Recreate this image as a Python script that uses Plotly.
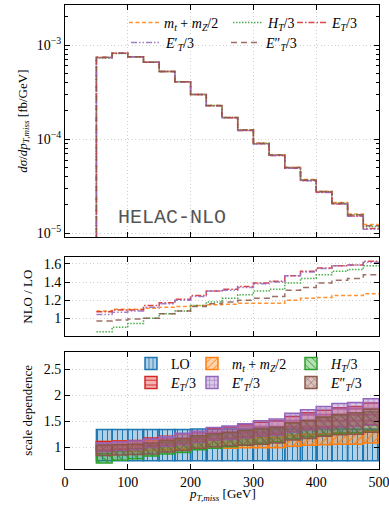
import plotly.graph_objects as go

# ---------------- data ----------------
edges = [50, 75, 100, 125, 150, 175, 200, 225, 250, 275, 300, 325, 350, 375, 400, 425, 450, 475, 500]

# NLO differential cross sections [fb/GeV] for the five scale choices
xs_mtmz = [7.40e-4, 8.17e-4, 7.51e-4, 6.55e-4, 5.25e-4, 4.07e-4, 2.99e-4, 2.28e-4, 1.70e-4,
           1.26e-4, 9.1e-5, 6.85e-5, 5.03e-5, 3.72e-5, 2.80e-5, 2.12e-5, 1.60e-5, 1.24e-5]
xs_ht = [7.30e-4, 8.12e-4, 7.49e-4, 6.55e-4, 5.25e-4, 4.07e-4, 2.99e-4, 2.28e-4, 1.70e-4,
         1.25e-4, 9.0e-5, 6.78e-5, 4.98e-5, 3.67e-5, 2.76e-5, 2.08e-5, 1.56e-5, 1.18e-5]
xs_et = [7.40e-4, 8.17e-4, 7.51e-4, 6.55e-4, 5.25e-4, 4.07e-4, 2.99e-4, 2.27e-4, 1.69e-4,
         1.24e-4, 8.95e-5, 6.72e-5, 4.92e-5, 3.63e-5, 2.72e-5, 2.05e-5, 1.53e-5, 1.12e-5]
xs_etp = [7.40e-4, 8.17e-4, 7.51e-4, 6.55e-4, 5.25e-4, 4.06e-4, 2.98e-4, 2.27e-4, 1.69e-4,
          1.24e-4, 8.9e-5, 6.70e-5, 4.90e-5, 3.62e-5, 2.71e-5, 2.04e-5, 1.52e-5, 1.10e-5]
xs_etpp = [7.42e-4, 8.17e-4, 7.51e-4, 6.55e-4, 5.25e-4, 4.07e-4, 2.99e-4, 2.28e-4, 1.70e-4,
           1.25e-4, 9.05e-5, 6.80e-5, 5.00e-5, 3.69e-5, 2.78e-5, 2.08e-5, 1.57e-5, 1.20e-5]

# NLO / LO ratios
r_mtmz = [1.08, 1.10, 1.10, 1.11, 1.12, 1.13, 1.14, 1.15, 1.155, 1.165, 1.165, 1.165, 1.20, 1.22, 1.23, 1.25, 1.25, 1.27]
r_ht = [0.85, 0.90, 0.94, 1.00, 1.05, 1.08, 1.14, 1.18, 1.22, 1.26, 1.30, 1.32, 1.39, 1.44, 1.48, 1.52, 1.54, 1.58]
r_et = [1.07, 1.09, 1.09, 1.14, 1.17, 1.21, 1.25, 1.30, 1.32, 1.35, 1.39, 1.41, 1.47, 1.52, 1.555, 1.58, 1.59, 1.63]
r_etp = [1.04, 1.065, 1.08, 1.12, 1.16, 1.20, 1.24, 1.30, 1.31, 1.34, 1.38, 1.40, 1.47, 1.51, 1.55, 1.58, 1.59, 1.62]
r_etpp = [0.97, 0.98, 0.99, 1.00, 1.05, 1.08, 1.13, 1.16, 1.18, 1.20, 1.22, 1.24, 1.31, 1.34, 1.39, 1.42, 1.44, 1.48]

# scale-dependence bands (low / high), normalised to LO
lo_low = [0.74] * 18
lo_high = [1.34, 1.34, 1.34, 1.34, 1.34, 1.34, 1.35, 1.35, 1.35, 1.35, 1.35, 1.35, 1.35, 1.35, 1.35, 1.35, 1.35, 1.35]
mtmz_low = [0.92, 0.93, 0.93, 0.94, 0.95, 0.96, 0.97, 0.98, 0.98, 0.99, 0.99, 0.99, 1.02, 1.04, 1.05, 1.06, 1.06, 1.08]
mtmz_high = [1.11, 1.12, 1.12, 1.13, 1.14, 1.15, 1.16, 1.17, 1.18, 1.19, 1.19, 1.19, 1.23, 1.25, 1.26, 1.28, 1.28, 1.30]
ht_low = [0.70, 0.75, 0.78, 0.83, 0.87, 0.90, 0.95, 0.98, 1.01, 1.05, 1.08, 1.10, 1.16, 1.20, 1.23, 1.27, 1.28, 1.32]
ht_high = [0.88, 0.93, 0.97, 1.03, 1.09, 1.12, 1.19, 1.23, 1.28, 1.32, 1.37, 1.39, 1.47, 1.52, 1.57, 1.61, 1.63, 1.68]
et_low = [0.94, 0.96, 0.96, 1.00, 1.03, 1.06, 1.10, 1.14, 1.16, 1.19, 1.22, 1.24, 1.29, 1.34, 1.37, 1.39, 1.40, 1.43]
et_high = [1.11, 1.12, 1.13, 1.18, 1.21, 1.26, 1.30, 1.36, 1.39, 1.43, 1.48, 1.51, 1.59, 1.66, 1.71, 1.76, 1.78, 1.85]
etp_low = [0.92, 0.94, 0.95, 0.99, 1.02, 1.05, 1.09, 1.14, 1.15, 1.18, 1.21, 1.23, 1.29, 1.33, 1.36, 1.39, 1.40, 1.42]
etp_high = [1.08, 1.10, 1.12, 1.16, 1.20, 1.27, 1.30, 1.38, 1.41, 1.45, 1.51, 1.54, 1.65, 1.72, 1.78, 1.84, 1.86, 1.93]
etpp_low = [0.84, 0.85, 0.86, 0.87, 0.91, 0.94, 0.98, 1.01, 1.03, 1.04, 1.06, 1.08, 1.14, 1.17, 1.21, 1.24, 1.25, 1.29]
etpp_high = [1.04, 1.05, 1.06, 1.08, 1.13, 1.17, 1.22, 1.26, 1.29, 1.32, 1.35, 1.38, 1.47, 1.51, 1.58, 1.63, 1.66, 1.73]

labels = {
    "mtmz": "<i>m</i><sub><i>t</i></sub> + <i>m</i><sub><i>Z</i></sub>/2",
    "ht": "<i>H</i><sub><i>T</i></sub>/3",
    "et": "<i>E</i><sub><i>T</i></sub>/3",
    "etp": "<i>E</i>′<sub><i>T</i></sub>/3",
    "etpp": "<i>E</i>″<sub><i>T</i></sub>/3",
    "lo": "LO",
}

# ---------------- styling ----------------
C = {"lo": "#1f77b4", "mtmz": "#ff7f0e", "ht": "#2ca02c", "et": "#d62728", "etp": "#9467bd", "etpp": "#8c564b"}
DASH = {"mtmz": "4px,2.5px", "ht": "1.5px,1.5px", "et": "6px,2px,1.5px,2px",
        "etp": "6px,2px,1.5px,2px,1.5px,2px", "etpp": "6px,4px"}


def rgba(h, a):
    h = h.lstrip("#")
    return "rgba(%d,%d,%d,%s)" % (int(h[0:2], 16), int(h[2:4], 16), int(h[4:6], 16), a)


W, H = 389, 505
L, R, T, B = 65, 10, 5, 36
PW, PH = W - L - R, H - T - B


def px_x(p):
    return (p - L) / PW


def px_y(p):
    return (H - B - p) / PH


fig = go.Figure()

xs = {"mtmz": xs_mtmz, "ht": xs_ht, "et": xs_et, "etp": xs_etp, "etpp": xs_etpp}
rs = {"mtmz": r_mtmz, "ht": r_ht, "et": r_et, "etp": r_etp, "etpp": r_etpp}

# legend placement for top panel (text start px, row center px)
top_leg = {"mtmz": (164, 23), "ht": (268, 23), "et": (332, 23), "etp": (166, 43), "etpp": (266, 43)}

legends = {}
li = 1
for k in ["mtmz", "ht", "et", "etp", "etpp"]:
    name = "legend" if li == 1 else "legend%d" % li
    tx, ty = top_leg[k]
    legends[name] = dict(x=px_x(tx - 40), y=px_y(ty), xanchor="left", yanchor="middle",
                         bgcolor="rgba(0,0,0,0)", borderwidth=0, itemwidth=30,
                         font=dict(size=14, family="Liberation Serif", color="black"))
    line = dict(color=rgba(C[k], 0.85), width=1.5, dash=DASH[k])
    fig.add_trace(go.Scatter(x=[edges[0]] + edges, y=[1e-7] + xs[k] + [xs[k][-1]],
                             mode="lines", line=dict(line, shape="hv"), name=labels[k],
                             legend=name, xaxis="x", yaxis="y"))
    fig.add_trace(go.Scatter(x=edges, y=rs[k] + [rs[k][-1]], mode="lines",
                             line=dict(line, shape="hv"), showlegend=False,
                             xaxis="x2", yaxis="y2"))
    li += 1

# scale dependence bands
centers = [(edges[i] + edges[i + 1]) / 2 for i in range(len(edges) - 1)]
bands = [("lo", lo_low, lo_high, "|"), ("mtmz", mtmz_low, mtmz_high, "/"),
         ("ht", ht_low, ht_high, "\\"), ("et", et_low, et_high, "-"),
         ("etp", etp_low, etp_high, "+"), ("etpp", etpp_low, etpp_high, "x")]
bot_leg = {"lo": (171, 364), "mtmz": (232, 364), "ht": (331, 364),
           "et": (171, 383), "etp": (232, 383), "etpp": (331, 383)}
for k, lo, hi, pat in bands:
    name = "legend%d" % li
    tx, ty = bot_leg[k]
    legends[name] = dict(x=px_x(tx - 40), y=px_y(ty), xanchor="left", yanchor="middle",
                         bgcolor="rgba(0,0,0,0)", borderwidth=0, itemwidth=30,
                         font=dict(size=14, family="Liberation Serif", color="black"))
    fig.add_trace(go.Bar(
        x=centers, y=[h - l for h, l in zip(hi, lo)], base=lo, width=25,
        name=labels[k], legend=name, xaxis="x3", yaxis="y3",
        marker=dict(color=rgba(C[k], 0.35), line=dict(color=C[k], width=1.5),
                    pattern=dict(shape=pat, fgcolor=C[k], bgcolor=rgba(C[k], 0.35),
                                 size=5 if pat == "|" else 6,
                                 solidity=0.2, fillmode="replace")),
    ))
    li += 1

grid = dict(showgrid=True, gridcolor="#cfcfcf", griddash="1px,2.5px", gridwidth=1)
axbase = dict(showline=True, linecolor="black", linewidth=1, mirror="ticks", ticks="inside",
              ticklen=5, tickcolor="black", zeroline=False, automargin=False, **grid)

xcommon = dict(axbase, range=[0, 500], tickvals=[0, 100, 200, 300, 400, 500],
               ticklabeloverflow="allow")
ytop0 = px_y(237.3)
ymid = (px_y(336), px_y(257.3))
ybot = (0, px_y(351.7))

minor_log = [m * 10 ** e for e in (-6, -5, -4, -3) for m in range(2, 10)]

fig.update_layout(
    width=W, height=H, margin=dict(l=L, r=R, t=T, b=B, autoexpand=False),
    paper_bgcolor="white", plot_bgcolor="white",
    font=dict(family="Liberation Serif", size=14, color="black"),
    barmode="overlay", showlegend=True,
    xaxis=dict(xcommon, domain=[0, 1], anchor="y", showticklabels=False),
    xaxis2=dict(xcommon, domain=[0, 1], anchor="y2", showticklabels=False, matches="x"),
    xaxis3=dict(xcommon, domain=[0, 1], anchor="y3", matches="x"),
    yaxis=dict(axbase, type="log", domain=[ytop0, 1], range=[-5.043, -2.574], anchor="x",
               tickvals=[1e-5, 1e-4, 1e-3],
               ticktext=["10<sup>−5</sup>", "10<sup>−4</sup>", "10<sup>−3</sup>"],
               minor=dict(tickvals=minor_log, ticks="inside", ticklen=3, tickcolor="black",
                          showgrid=False),
               title=dict(text="<i>dσ</i>/<i>dp</i><sub><i>T,miss</i></sub> [fb/GeV]",
                          font=dict(size=13), standoff=6)),
    yaxis2=dict(axbase, domain=list(ymid), range=[0.803, 1.674], anchor="x2",
                tickvals=[1, 1.2, 1.4, 1.6], ticktext=["1", "1.2", "1.4", "1.6"],
                title=dict(text="NLO / LO", font=dict(size=13), standoff=8)),
    yaxis3=dict(axbase, domain=list(ybot), range=[0.583, 2.833], anchor="x3",
                tickvals=[1, 1.5, 2, 2.5], ticktext=["1", "1.5", "2", "2.5"],
                title=dict(text="scale dependence", font=dict(size=13), standoff=8)),
    annotations=[
        dict(text="HELAC-NLO", x=px_x(172), y=px_y(217.7), xref="paper", yref="paper",
             showarrow=False, font=dict(family="Liberation Mono", size=20, color="#555")),
        dict(text="<i>p</i><sub><i>T,miss</i></sub> [GeV]", x=0.5, y=px_y(504),
             xref="paper", yref="paper", xanchor="center", yanchor="bottom", borderpad=0,
             showarrow=False, font=dict(size=13)),
    ],
    **legends,
)

fig.write_html("out.html")
